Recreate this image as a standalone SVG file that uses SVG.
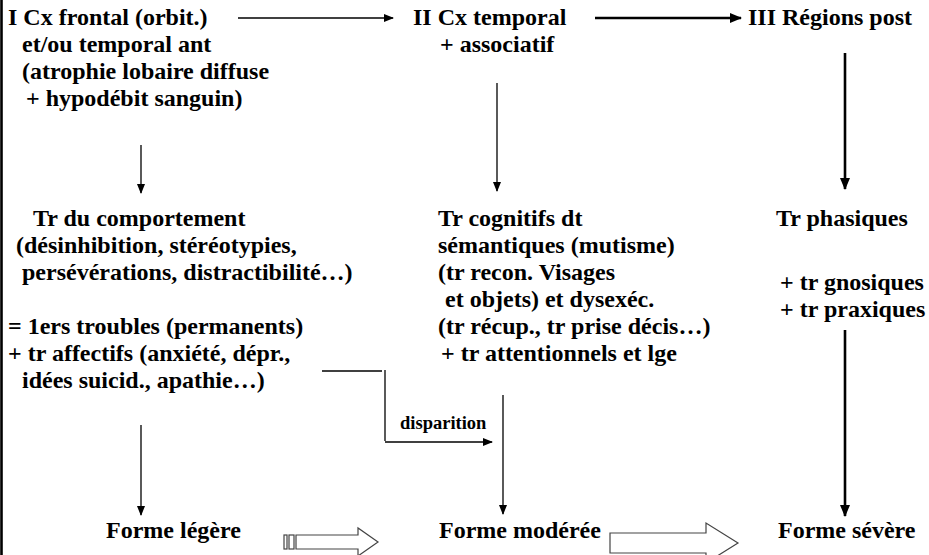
<svg xmlns="http://www.w3.org/2000/svg" width="929" height="555" viewBox="0 0 929 555">
  <style>
    text { font-family: "Liberation Serif", Tinos, "Times New Roman", "DejaVu Serif", serif; font-weight: 700; font-size: 24px; fill: #000; }
    text.small { font-size: 18.5px; }
    .thin { stroke: #000; stroke-width: 1.3; fill: none; }
    .thick { stroke: #000; stroke-width: 2.6; fill: none; }
    .block { fill: #fff; stroke: #444; stroke-width: 1.2; }
  </style>
  <defs>
    <marker id="head" markerUnits="userSpaceOnUse" markerWidth="10" markerHeight="8" refX="9" refY="4" orient="auto">
      <path d="M0,0 L10,4 L0,8 z" fill="#000"/>
    </marker>
    <marker id="headBig" markerUnits="userSpaceOnUse" markerWidth="12" markerHeight="10" refX="11" refY="5" orient="auto">
      <path d="M0,0 L12,5 L0,10 z" fill="#000"/>
    </marker>
  </defs>

  <rect width="929" height="555" fill="#fff"/>
  <!-- frame edge -->
  <line x1="1.5" y1="0" x2="1.5" y2="555" stroke="#000" stroke-width="2.6"/>

  <g id="stage1">
    <text x="8" y="25">I Cx frontal (orbit.)</text>
    <text x="22" y="52">et/ou temporal ant</text>
    <text x="22" y="79">(atrophie lobaire diffuse</text>
    <text x="26" y="106">+ hypodébit sanguin)</text>
  </g>

  <g id="stage2">
    <text x="413" y="25">II Cx temporal</text>
    <text x="440" y="52">+ associatif</text>
  </g>

  <g id="stage3">
    <text x="748" y="25">III Régions post</text>
  </g>

  <g id="troubles-comportement">
    <text x="33" y="226">Tr du comportement</text>
    <text x="16" y="253">(désinhibition, stéréotypies,</text>
    <text x="22" y="280">persévérations, distractibilité…)</text>
    <text x="8" y="334">= 1ers troubles (permanents)</text>
    <text x="8" y="361">+ tr affectifs (anxiété, dépr.,</text>
    <text x="22" y="388">idées suicid., apathie…)</text>
  </g>

  <g id="troubles-cognitifs">
    <text x="438" y="226">Tr cognitifs dt</text>
    <text x="438" y="253">sémantiques (mutisme)</text>
    <text x="438" y="280">(tr recon. Visages</text>
    <text x="445" y="307">et objets) et dysexéc.</text>
    <text x="438" y="334">(tr récup., tr prise décis…)</text>
    <text x="441" y="361">+ tr attentionnels et lge</text>
  </g>

  <g id="troubles-phasiques">
    <text x="776" y="226">Tr phasiques</text>
    <text x="780" y="290">+ tr gnosiques</text>
    <text x="780" y="317">+ tr praxiques</text>
  </g>

  <g id="forme-legere">
    <text x="106" y="538">Forme légère</text>
  </g>
  <g id="forme-moderee">
    <text x="439" y="538">Forme modérée</text>
  </g>
  <g id="forme-severe">
    <text x="778" y="538">Forme sévère</text>
  </g>

  <g id="connectors">
    <!-- top row -->
    <line class="thin" x1="238" y1="18" x2="393" y2="18" marker-end="url(#head)"/>
    <line class="thick" x1="595" y1="18" x2="741" y2="18" marker-end="url(#headBig)"/>
    <!-- stage to symptoms -->
    <line class="thin" x1="141" y1="145" x2="141" y2="193" marker-end="url(#head)"/>
    <line class="thin" x1="497" y1="83" x2="497" y2="191" marker-end="url(#head)"/>
    <line class="thick" x1="845" y1="53" x2="845" y2="189" marker-end="url(#headBig)"/>
    <!-- symptoms to forms -->
    <line class="thin" x1="141" y1="425" x2="141" y2="515" marker-end="url(#head)"/>
    <line class="thin" x1="503" y1="395" x2="503" y2="514" marker-end="url(#head)"/>
    <line class="thick" x1="845" y1="330" x2="845" y2="516" marker-end="url(#headBig)"/>
    <!-- disparition branch -->
    <line class="thin" x1="322" y1="371" x2="382" y2="371"/>
    <line class="thin" x1="385" y1="370" x2="385" y2="441"/>
    <line class="thin" x1="385" y1="442" x2="492" y2="442" marker-end="url(#head)"/>
    <text class="small" x="400" y="429">disparition</text>
    <!-- progression block arrows -->
    <rect class="block" x="284" y="535" width="3" height="14"/>
    <rect class="block" x="289" y="535" width="5" height="14"/>
    <polygon class="block" points="296,535 358,535 358,528 378,542 358,556 358,549 296,549"/>
    <polygon class="block" points="610,533 706,533 706,523 738,543 706,563 706,553 610,553"/>
  </g>
</svg>
